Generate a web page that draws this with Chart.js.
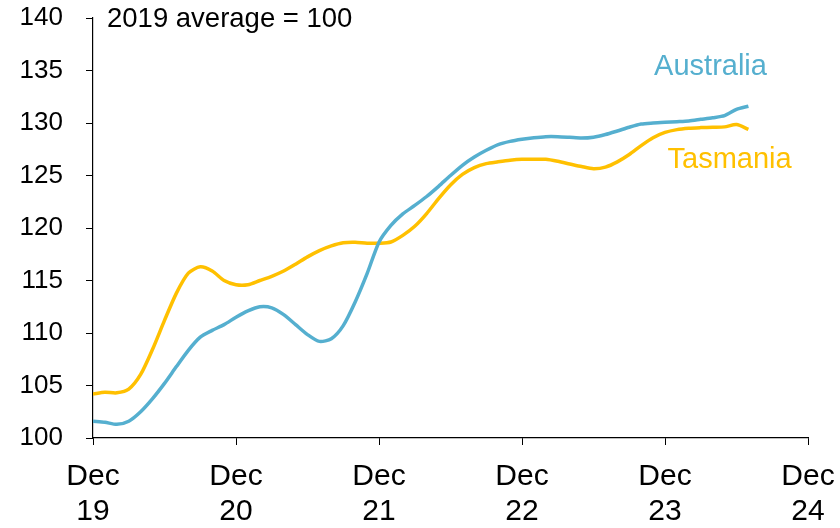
<!DOCTYPE html>
<html>
<head>
<meta charset="utf-8">
<script src="https://cdn.jsdelivr.net/npm/chart.js@4/dist/chart.umd.min.js"></script>
<style>
html,body{margin:0;padding:0;background:#fff;}
#wrap{width:840px;height:528px;position:relative;}
</style>
</head>
<body>
<div id="wrap"><canvas id="c" width="840" height="528"></canvas></div>
<script>
// Monthly index values from Dec 2019 (index 0) to Jul 2024 (index 55)
const australia = [101.6,101.5,101.3,101.6,102.5,103.75,105.2,106.8,108.35,109.6,110.25,110.8,
  111.5,112.1,112.5,112.4,111.75,110.8,109.85,109.2,109.45,110.7,112.95,115.65,
  118.65,120.25,121.35,122.15,123.0,123.97,125.0,125.97,126.76,127.4,127.94,128.25,
  128.45,128.6,128.7,128.7,128.64,128.57,128.65,128.9,129.24,129.6,129.9,130.0,
  130.07,130.13,130.2,130.35,130.5,130.7,131.3,131.6];
const tasmania = [104.2,104.35,104.3,104.65,106.05,108.45,111.2,113.8,115.7,116.3,115.9,115.0,
  114.6,114.6,115.0,115.4,115.9,116.55,117.25,117.85,118.3,118.6,118.65,118.55,
  118.55,118.67,119.3,120.16,121.37,122.8,124.1,125.1,125.75,126.13,126.3,126.45,
  126.54,126.55,126.54,126.35,126.1,125.85,125.65,125.8,126.3,127.0,127.85,128.6,
  129.1,129.37,129.5,129.56,129.6,129.63,129.85,129.4];
const xTickLabels = [['Dec','19'],['Dec','20'],['Dec','21'],['Dec','22'],['Dec','23'],['Dec','24']];
const seriesNames = ['Australia','Tasmania'];
const noteText = '2019 average = 100';

const BLUE = '#55AFCF';
const GOLD = '#FFC000';
const FONT = "'Liberation Sans', Arial, sans-serif";

const toPoints = arr => arr.map((v, i) => ({x: i, y: v}));

const labelPlugin = {
  id: 'labels',
  afterDatasetsDraw(chart) {
    const {ctx, scales: {x, y}, chartArea} = chart;
    ctx.save();
    ctx.font = '29px ' + FONT;
    ctx.textBaseline = 'alphabetic';
    ctx.textAlign = 'center';
    ctx.fillStyle = BLUE;
    ctx.fillText(seriesNames[0], x.getPixelForValue(51.82), y.getPixelForValue(134.54));
    ctx.fillStyle = GOLD;
    ctx.fillText(seriesNames[1], x.getPixelForValue(53.42), y.getPixelForValue(125.71));
    ctx.textAlign = 'left';
    ctx.fillStyle = '#000';
    ctx.font = '27.5px ' + FONT;
    ctx.fillText(noteText, chartArea.left + 14, y.getPixelForValue(139.14));
    ctx.restore();
  }
};

new Chart(document.getElementById('c'), {
  type: 'line',
  data: {
    datasets: [
      {label: seriesNames[0], data: toPoints(australia), borderColor: BLUE, borderWidth: 3.5, pointRadius: 0, tension: 0.25, fill: false},
      {label: seriesNames[1], data: toPoints(tasmania), borderColor: GOLD, borderWidth: 3.5, pointRadius: 0, tension: 0.25, fill: false}
    ]
  },
  options: {
    responsive: false,
    animation: false,
    layout: {padding: {top: 18, right: 32, left: 0, bottom: 0}},
    plugins: {legend: {display: false}, tooltip: {enabled: false}},
    scales: {
      x: {
        type: 'linear', min: 0, max: 60,
        afterFit: s => { s.height = 90; s.paddingLeft = 0; s.paddingRight = 0; },
        afterBuildTicks: s => { s.ticks = xTickLabels.map((_, i) => ({value: i * 12})); },
        ticks: {
          autoSkip: false, maxRotation: 0, padding: 14, color: '#000',
          font: {family: FONT, size: 30, lineHeight: 1.167},
          callback: (v) => xTickLabels[Math.round(v / 12)]
        },
        grid: {display: true, drawOnChartArea: false, drawTicks: true, tickLength: 7, color: '#000', lineWidth: 1},
        border: {display: true, color: '#000', width: 1.2}
      },
      y: {
        min: 100, max: 140,
        afterFit: s => { s.width = 93; s.paddingTop = 0; s.paddingBottom = 0; },
        ticks: {stepSize: 5, padding: 23, color: '#000', font: {family: FONT, size: 26}},
        grid: {display: true, drawOnChartArea: false, drawTicks: true, tickLength: 7, color: '#000', lineWidth: 1},
        border: {display: true, color: '#000', width: 1.2}
      }
    }
  },
  plugins: [labelPlugin]
});
</script>
</body>
</html>
